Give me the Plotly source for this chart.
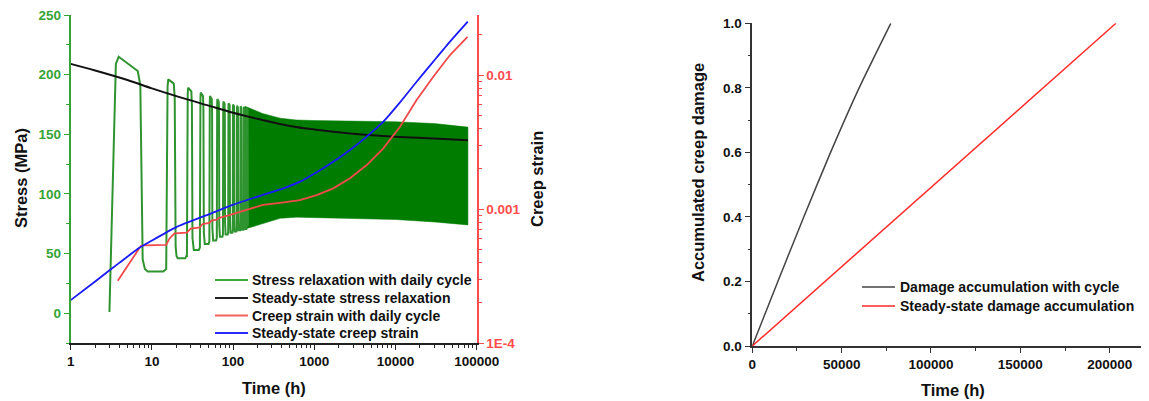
import plotly.graph_objects as go

# ---------------- Left panel data ----------------
# stress relaxation with daily cycle: individual early cycles (time in h, stress in MPa)
cycle_on = [3.0, 15.0, 27.0, 39.0, 51.0, 63.0, 75.0, 87.0, 99.0, 111.0, 123.0, 135.0, 147.0]
cycle_off = [7.3, 19.2, 31.2, 43.2, 55.2, 67.2, 79.2, 91.2, 103.2, 115.2, 127.2, 139.2, 151.2]
cycle_peak = [215, 196, 189, 185, 182, 179.5, 177.5, 176, 175, 174, 173.5, 173, 172.5]
cycle_peak_end = [203, 192.5, 186, 182, 179.5, 177.5, 175.5, 174.5, 173.5, 172.5, 172, 171.5, 171]
cycle_trough = [35, 46, 53, 58, 61, 64, 66, 67.5, 68.5, 69.5, 70, 70.5, 71]
cycle_start_stress = 1.0

# dense cycling band (envelope)
band_t = [140, 230, 380, 600, 1000, 3000, 10000, 30000, 78000]
band_upper = [173.5, 167.5, 163.5, 162, 161.5, 161, 160.5, 159, 156]
band_lower = [70.5, 75, 79.5, 80.5, 80.5, 79.5, 78.5, 76.5, 74]

# steady-state stress relaxation
ss_t = [1, 2, 5, 10, 20, 50, 100, 200, 500, 1000, 3000, 10000, 30000, 78000]
ss_stress = [209, 203.5, 195.5, 188.5, 182, 174, 168, 163, 157, 154, 150.5, 148, 146.5, 145]

# creep strain with daily cycle
cs_t = [3.8, 6.0, 7.3, 8, 15, 16.5, 19, 27, 30, 39, 42, 51, 54, 63, 66, 90, 150, 233, 400,
        666, 1070, 1714, 2750, 4420, 7080, 11360, 18200, 29200, 46900, 77000]
cs_strain = [2.92e-4, 4.37e-4, 5.30e-4, 5.35e-4, 5.40e-4, 6.03e-4, 6.59e-4, 6.67e-4, 7.14e-4,
             7.28e-4, 7.73e-4, 7.87e-4, 8.18e-4, 8.32e-4, 8.55e-4, 9.02e-4, 9.89e-4, 1.072e-3,
             1.117e-3, 1.167e-3, 1.268e-3, 1.426e-3, 1.698e-3, 2.128e-3, 2.838e-3, 4.111e-3,
             6.501e-3, 9.705e-3, 1.409e-2, 1.93e-2]

# steady-state creep strain
sc_t = [1, 2, 4, 7, 10, 20, 50, 90, 230, 400, 666, 1070, 1714, 2750, 4420, 7080, 11360,
        18200, 29200, 46900, 77700]
sc_strain = [2.09e-4, 2.88e-4, 3.98e-4, 5.13e-4, 5.82e-4, 7.33e-4, 9.12e-4, 1.052e-3, 1.271e-3,
             1.413e-3, 1.600e-3, 1.884e-3, 2.254e-3, 2.754e-3, 3.467e-3, 4.487e-3, 6.252e-3,
             8.913e-3, 1.259e-2, 1.774e-2, 2.500e-2]

time_tickvals = [1, 10, 100, 1000, 10000, 100000]
time_ticktext = ["1", "10", "100", "1000", "10000", "100000"]
strain_tickvals = [1e-4, 1e-3, 1e-2]
strain_ticktext = ["1E-4", "0.001", "0.01"]

left_legend_names = ["Stress relaxation with daily cycle", "Steady-state stress relaxation",
                     "Creep strain with daily cycle", "Steady-state creep strain"]

# ---------------- Right panel data ----------------
dmg_cyc_t = [0, 14300, 28800, 43800, 59800, 77500]
dmg_cyc = [0, 0.2, 0.4, 0.6, 0.8, 1.0]
dmg_ss_t = [0, 50000, 100000, 150000, 203500]
dmg_ss = [0, 0.245, 0.49, 0.735, 1.0]

right_legend_names = ["Damage accumulation with cycle", "Steady-state damage accumulation"]

# ---------------- build cycle polyline ----------------
cyc_t, cyc_s = [], []
n = len(cycle_on)
for k in range(n):
    on, off = cycle_on[k], cycle_off[k]
    pk, pe, tr = cycle_peak[k], cycle_peak_end[k], cycle_trough[k]
    prev = cycle_start_stress if k == 0 else cycle_trough[k - 1] + 2
    pts = [(on, prev), (on + 0.6, pk - 6), (on + 0.9, pk), (off - 0.6, pe),
           (off - 0.1, pe - 12), (off + 0.4, tr + 10), (off + 0.9, tr + 2)]
    if k < n - 1:
        nxt = cycle_on[k + 1]
        pts += [(off + 1.6, tr), (nxt - 1.2, tr), (nxt - 0.4, tr + 2)]
    for a, b in pts:
        cyc_t.append(a)
        cyc_s.append(b)

band_x = band_t + band_t[::-1]
band_y = band_upper + band_lower[::-1]

FONT = "Liberation Sans, Arial, sans-serif"
GREEN_AX = "#36a336"
GREEN_LINE = "#2f942f"
GREEN_FILL = "#007d00"
RED = "#f24a4a"
RED_AX = "#ff4d4d"
BLUE = "#1a1aff"
DMG_BLACK = "#444444"
DMG_RED = "#ff2a2a"

# page body has an 8px margin: the figure is drawn at window offset (8, 8)
OFF = 8
W, H = 1149 - OFF, 401 - OFF


def px(x):
    return (x - OFF) / W


def py(y):
    return 1 - (y - OFF) / H


fig = go.Figure()

fig.add_trace(go.Scatter(x=band_x, y=band_y, fill="toself", fillcolor=GREEN_FILL,
                         line=dict(width=0.5, color=GREEN_FILL), mode="lines",
                         hoverinfo="skip", showlegend=False, xaxis="x", yaxis="y"))
fig.add_trace(go.Scatter(x=cyc_t, y=cyc_s, mode="lines", line=dict(color=GREEN_LINE, width=2),
                         name=left_legend_names[0], xaxis="x", yaxis="y", showlegend=False))
fig.add_trace(go.Scatter(x=ss_t, y=ss_stress, mode="lines",
                         line=dict(color="#111111", width=2, shape="spline"),
                         name=left_legend_names[1], xaxis="x", yaxis="y", showlegend=False))
fig.add_trace(go.Scatter(x=cs_t, y=cs_strain, mode="lines", line=dict(color=RED, width=1.8),
                         name=left_legend_names[2], xaxis="x", yaxis="y3", showlegend=False))
fig.add_trace(go.Scatter(x=sc_t, y=sc_strain, mode="lines",
                         line=dict(color=BLUE, width=1.8, shape="spline", smoothing=0.5),
                         name=left_legend_names[3], xaxis="x", yaxis="y3", showlegend=False))

fig.add_trace(go.Scatter(x=dmg_cyc_t, y=dmg_cyc, mode="lines",
                         line=dict(color=DMG_BLACK, width=1.5, shape="spline", smoothing=0.6),
                         name=right_legend_names[0], xaxis="x2", yaxis="y2", showlegend=False))
fig.add_trace(go.Scatter(x=dmg_ss_t, y=dmg_ss, mode="lines", line=dict(color=DMG_RED, width=1.5),
                         name=right_legend_names[1], xaxis="x2", yaxis="y2", showlegend=False))

tickfont = dict(family=FONT, size=13.5, color="#111111", weight="bold")

LX = [px(70.7), px(476.7)]
LY = [py(343), py(15)]
RX = [px(752.3), px(1149)]
RY = [py(346), py(23.3)]

common = dict(automargin=False, ticklabeloverflow="allow", showgrid=False, zeroline=False)

fig.update_layout(
    width=W, height=H,
    margin=dict(l=0, r=0, t=0, b=0),
    paper_bgcolor="white", plot_bgcolor="white",
    font=dict(family=FONT, color="#111111"),
    showlegend=False,
    xaxis=dict(type="log", range=[0, 5], domain=LX, anchor="y",
               tickmode="array", tickvals=time_tickvals, ticktext=time_ticktext,
               ticks="outside", ticklen=5, tickwidth=1.3, tickcolor="#222",
               showline=True, linecolor="#222", linewidth=1.5, tickfont=tickfont,
               minor=dict(ticks="outside", ticklen=3, dtick="D1", tickcolor="#222", showgrid=False),
               **common),
    xaxis3=dict(type="log", range=[0, 5], overlaying="x", side="top", anchor="y",
                tickmode="array", tickvals=time_tickvals, showticklabels=False,
                ticks="inside", ticklen=5, tickwidth=1.3, tickcolor="#222",
                showline=True, linecolor="#222", linewidth=1.5,
                minor=dict(ticks="inside", ticklen=3, dtick="D1", tickcolor="#222", showgrid=False),
                **common),
    yaxis=dict(range=[-25, 250], domain=LY, anchor="x",
               tickmode="linear", tick0=0, dtick=50,
               ticks="outside", ticklen=5, tickwidth=1.3, tickcolor=GREEN_AX,
               showline=True, linecolor=GREEN_AX, linewidth=1.8,
               tickfont=dict(family=FONT, size=13.5, color=GREEN_AX, weight="bold"),
               minor=dict(ticks="outside", ticklen=3, dtick=25, tickcolor=GREEN_AX, showgrid=False),
               **common),
    yaxis3=dict(type="log", range=[-4, -1.552], overlaying="y", side="right", anchor="x",
                tickmode="array", tickvals=strain_tickvals, ticktext=strain_ticktext,
                ticks="outside", ticklen=5, tickwidth=1.3, tickcolor=RED_AX,
                showline=True, linecolor=RED_AX, linewidth=1.8,
                tickfont=dict(family=FONT, size=13.5, color=RED_AX, weight="bold"),
                minor=dict(ticks="outside", ticklen=3, dtick="D1", tickcolor=RED_AX, showgrid=False),
                **common),
    xaxis2=dict(range=[0, 222000], domain=RX, anchor="y2",
                tickmode="linear", tick0=0, dtick=50000, tickformat="d",
                ticks="outside", ticklen=5, tickwidth=1.3, tickcolor="#333",
                showline=True, linecolor="#333", linewidth=1.5, tickfont=tickfont,
                minor=dict(ticks="outside", ticklen=3, dtick=25000, tickcolor="#333", showgrid=False),
                **common),
    xaxis4=dict(range=[0, 222000], overlaying="x2", side="top", anchor="y2",
                tickmode="linear", tick0=0, dtick=50000, showticklabels=False,
                ticks="inside", ticklen=5, tickwidth=1.3, tickcolor="#333",
                showline=True, linecolor="#333", linewidth=1.5,
                minor=dict(ticks="inside", ticklen=3, dtick=25000, tickcolor="#333", showgrid=False),
                **common),
    yaxis2=dict(range=[0, 1], domain=RY, anchor="x2",
                tickmode="linear", tick0=0, dtick=0.2, tickformat=".1f",
                ticks="outside", ticklen=6, tickwidth=1.3, tickcolor="#333",
                showline=True, linecolor="#333", linewidth=1.5, mirror=True, tickfont=tickfont,
                minor=dict(ticks="outside", ticklen=3, dtick=0.1, tickcolor="#333", showgrid=False),
                **common),
)

# ---- axis titles ----
title_font = dict(family=FONT, size=16.5, color="#111111", weight="bold")
annos = [
    dict(text="Time (h)", x=273.7, y=388, textangle=0),
    dict(text="Stress (MPa)", x=21, y=178, textangle=-90),
    dict(text="Creep strain", x=537, y=179, textangle=-90),
    dict(text="Time (h)", x=953, y=390, textangle=0),
    dict(text="Accumulated creep damage", x=698, y=173, textangle=-90),
]
for a in annos:
    fig.add_annotation(text=a["text"], x=px(a["x"]), y=py(a["y"]),
                       xref="paper", yref="paper", xanchor="center", yanchor="middle",
                       textangle=a["textangle"], showarrow=False, font=title_font)

# ---- legends (line sample + label) ----
legend_font = dict(family=FONT, size=14, color="#111111", weight="bold")
left_legend_colors = ["#3aa83a", "#222222", "#f26060", "#2a2aff"]
left_rows = [280, 298, 315.5, 333]
for name, col, yy in zip(left_legend_names, left_legend_colors, left_rows):
    fig.add_shape(type="line", xref="paper", yref="paper", x0=px(215), x1=px(248),
                  y0=py(yy), y1=py(yy), line=dict(color=col, width=2))
    fig.add_annotation(text=name, x=px(250), y=py(yy), xref="paper", yref="paper",
                       xanchor="left", yanchor="middle", showarrow=False, font=legend_font)

right_legend_colors = [DMG_BLACK, DMG_RED]
right_rows = [287, 306]
for name, col, yy in zip(right_legend_names, right_legend_colors, right_rows):
    fig.add_shape(type="line", xref="paper", yref="paper", x0=px(862), x1=px(895),
                  y0=py(yy), y1=py(yy), line=dict(color=col, width=1.5))
    fig.add_annotation(text=name, x=px(898), y=py(yy), xref="paper", yref="paper",
                       xanchor="left", yanchor="middle", showarrow=False, font=legend_font)

fig.write_html("out.html")
